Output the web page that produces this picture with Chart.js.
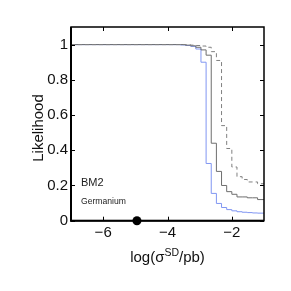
<!DOCTYPE html>
<html>
<head>
<meta charset="utf-8">
<script src="https://cdn.jsdelivr.net/npm/chart.js@4/dist/chart.umd.min.js"></script>
<style>
html,body{margin:0;padding:0;background:#fff;}
#wrap{position:relative;width:291px;height:291px;}
</style>
</head>
<body>
<div id="wrap"><canvas id="c" width="291" height="291"></canvas></div>
<script>
// step edges (log sigma) where each value begins
const edges = [-7, -3.60, -3.44, -3.28, -3.12, -2.96, -2.80, -2.64, -2.48, -2.32, -2.16, -2.00, -1.84, -1.68, -1.52, -1.36, -1.20];
const xEnd = -1;
const blueVals   = [1.0, 0.998, 0.995, 0.99, 0.975, 0.90, 0.325, 0.155, 0.098, 0.075, 0.063, 0.056, 0.051, 0.048, 0.046, 0.044, 0.043];
const graySolid  = [1.0, 1.0, 0.997, 0.993, 0.985, 0.97, 0.94, 0.44, 0.28, 0.20, 0.165, 0.15, 0.135, 0.135, 0.13, 0.13, 0.12];
const grayDashed = [1.0, 1.0, 0.999, 0.997, 0.995, 0.992, 0.985, 0.96, 0.91, 0.54, 0.41, 0.305, 0.25, 0.234, 0.22, 0.22, 0.21];
const markerX = [-4.95];
const markerY = [0];
const xTicks = [-6, -4, -2];
const yTicks = [0, 0.2, 0.4, 0.6, 0.8, 1];
const labelMain = 'BM2';
const labelSub = 'Germanium';
const yTitle = 'Likelihood';

const FONT = '"Liberation Sans", Arial, Helvetica, sans-serif';

function steps(vals){
  const pts = edges.map((x,i)=>({x:x, y:vals[i]}));
  pts.push({x:xEnd, y:vals[vals.length-1]});
  return pts;
}

const framePlugin = {
  id:'frame',
  afterDatasetsDraw(chart){
    const ctx = chart.ctx, a = chart.chartArea;
    const xs = chart.scales.x, ys = chart.scales.y;
    ctx.save();
    ctx.strokeStyle = '#000';
    ctx.lineWidth = 1;
    const tl = 4;
    ctx.beginPath();
    xTicks.forEach(v=>{
      const px = Math.round(xs.getPixelForValue(v))+0.5;
      ctx.moveTo(px, a.bottom); ctx.lineTo(px, a.bottom - tl);
      ctx.moveTo(px, a.top); ctx.lineTo(px, a.top + tl);
    });
    yTicks.forEach(v=>{
      const py = Math.round(ys.getPixelForValue(v))+0.5;
      ctx.moveTo(a.left, py); ctx.lineTo(a.left + tl, py);
      ctx.moveTo(a.right, py); ctx.lineTo(a.right - tl, py);
    });
    ctx.stroke();
    ctx.lineWidth = 1.5;
    ctx.strokeRect(a.left, a.top, a.right - a.left, a.bottom - a.top);
    ctx.lineWidth = 2;
    ctx.beginPath();
    ctx.moveTo(a.left, a.top); ctx.lineTo(a.left, a.bottom); ctx.lineTo(a.right, a.bottom);
    ctx.stroke();
    ctx.restore();
  },
  afterDraw(chart){
    const ctx = chart.ctx, a = chart.chartArea;
    const xs = chart.scales.x, ys = chart.scales.y;
    ctx.save();
    // marker
    ctx.fillStyle = '#000';
    ctx.beginPath();
    ctx.arc(xs.getPixelForValue(markerX[0]), ys.getPixelForValue(markerY[0]), 4.5, 0, Math.PI*2);
    ctx.fill();
    // in-plot labels
    ctx.fillStyle = '#222';
    ctx.textBaseline = 'middle';
    ctx.textAlign = 'left';
    ctx.font = '11px ' + FONT;
    ctx.fillText(labelMain, a.left + 10, 183);
    ctx.font = '8.6px ' + FONT;
    ctx.fillText(labelSub, a.left + 10, 202);
    // x title with superscript
    ctx.fillStyle = '#111';
    ctx.textBaseline = 'alphabetic';
    const p1 = 'log(\u03c3', sup = 'SD', p2 = '/pb)';
    ctx.font = '15px ' + FONT;
    const w1 = ctx.measureText(p1).width, w3 = ctx.measureText(p2).width;
    ctx.font = '10.5px ' + FONT;
    const w2 = ctx.measureText(sup).width;
    const total = w1 + w2 + w3;
    const cx = (a.left + a.right)/2;
    let x0 = cx - total/2;
    const base = 261.5;
    ctx.font = '15px ' + FONT;
    ctx.fillText(p1, x0, base);
    ctx.font = '10.5px ' + FONT;
    ctx.fillText(sup, x0 + w1, base - 6);
    ctx.font = '15px ' + FONT;
    ctx.fillText(p2, x0 + w1 + w2, base);
    // y title
    ctx.translate(43, 128);
    ctx.rotate(-Math.PI/2);
    ctx.textAlign = 'center';
    ctx.textBaseline = 'alphabetic';
    ctx.fillText(yTitle, 0, 0);
    ctx.restore();
  }
};

new Chart(document.getElementById('c'), {
  type:'scatter',
  data:{
    datasets:[
      {data:steps(grayDashed), showLine:true, stepped:'before', borderColor:'#808080', borderWidth:1, borderDash:[4,3], pointRadius:0},
      {data:steps(graySolid), showLine:true, stepped:'before', borderColor:'#6e6e6e', borderWidth:1, pointRadius:0},
      {data:steps(blueVals), showLine:true, stepped:'before', borderColor:'#8096f2', borderWidth:1, pointRadius:0}
    ]
  },
  options:{
    responsive:false,
    animation:false,
    devicePixelRatio:1,
    layout:{padding:{top:27, right:27, left:0, bottom:0}},
    plugins:{legend:{display:false}, tooltip:{enabled:false}},
    scales:{
      x:{
        type:'linear', min:-7, max:-1,
        afterFit(s){ s.height = 70.3; },
        afterBuildTicks(s){ s.ticks = xTicks.map(v=>({value:v})); },
        grid:{display:false, drawTicks:false},
        border:{display:false},
        ticks:{padding:3, color:'#111', font:{size:15, family:FONT}, maxRotation:0,
          callback:(v)=> (v<0?'\u2212':'') + Math.abs(v)}
      },
      y:{
        type:'linear', min:0, max:1.1,
        afterFit(s){ s.width = 71; },
        afterBuildTicks(s){ s.ticks = yTicks.map(v=>({value:v})); },
        grid:{display:false, drawTicks:false},
        border:{display:false},
        ticks:{padding:3, color:'#111', font:{size:15, family:FONT},
          callback:(v)=> String(Math.round(v*10)/10)}
      }
    }
  },
  plugins:[framePlugin]
});
</script>
</body>
</html>
